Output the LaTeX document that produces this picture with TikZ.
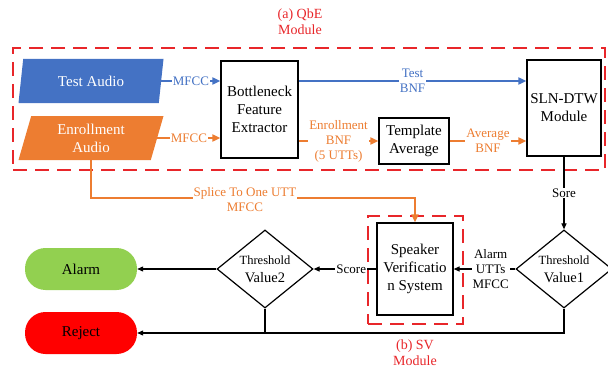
\documentclass[tikz,border=0pt]{standalone}
\usepackage{fontspec}
\setmainfont{Liberation Serif}
\usetikzlibrary{shapes.geometric,arrows.meta,calc}
\definecolor{myblue}{HTML}{4472C4}
\definecolor{myorange}{HTML}{ED7D31}
\definecolor{mygreen}{HTML}{92D050}
\definecolor{myred}{HTML}{FF0000}
\definecolor{dashred}{HTML}{E8262A}
\begin{document}
\begin{tikzpicture}[x=1pt,y=-1pt,
  big/.style={font=\fontsize{15}{18}\selectfont},
  small/.style={font=\fontsize{13}{15}\selectfont},
  box/.style={draw, line width=1.2pt, fill=white, align=center, big, inner sep=0pt},
  para/.style={trapezium, trapezium left angle=66, trapezium right angle=114, trapezium stretches body,
    minimum width=145pt, minimum height=44pt, align=center, big, text=white, inner sep=0pt},
  term/.style={rectangle, rounded corners=20.5pt, minimum width=112pt, minimum height=42pt, big, inner sep=0pt},
  dia/.style={diamond, aspect=1.25, draw, line width=1.2pt, fill=white, minimum width=96pt, minimum height=78pt,
    inner sep=0pt, align=center, font=\fontsize{14.5}{18}\selectfont},
  lbl/.style={fill=white, inner sep=1pt, align=center, small},
  carrow/.style={line width=1.8pt, -{Triangle[length=8pt,width=7pt]}},
  karrow/.style={line width=1.1pt, -{Triangle[length=6pt,width=5pt]}},
  module/.style={draw=dashred, line width=2.6pt, dash pattern=on 14pt off 8pt, inner sep=0pt},
  modlabel/.style={text=dashred, align=center, font=\fontsize{14}{16}\selectfont}
]
\useasboundingbox (0,0) rectangle (608,369);

% module frames
\node[module, minimum width=592pt, minimum height=122pt] (qbe) at (309,109) {};
\node[module, minimum width=95pt, minimum height=108pt] (sv) at (415.5,270) {};
\node[modlabel] (qbelbl) at (300,22) {(a) QbE\\Module};
\node[modlabel] (svlbl) at (415,353) {(b) SV\\Module};

% nodes
\node[para, fill=myblue] (test) at (91,81) {Test Audio};
\node[para, fill=myorange] (enroll) at (91,138) {Enrollment\\Audio};
\node[box, minimum width=77pt, minimum height=97pt] (bfe) at (259.5,109.5) {Bottleneck\\Feature\\Extractor};
\node[box, minimum width=70pt, minimum height=46pt] (tpl) at (414,141) {Template\\Average};
\node[box, minimum width=74pt, minimum height=96pt] (sln) at (564,108) {SLN-DTW\\Module};
\node[box, minimum width=76pt, minimum height=92pt] (svs) at (415,269) {Speaker\\Verificatio\\n System};
\node[dia] (v1) at (564,269) {{\fontsize{12.5}{15}\selectfont Threshold}\\Value1};
\node[dia] (v2) at (265,269) {{\fontsize{12.5}{15}\selectfont Threshold}\\Value2};
\node[term, fill=mygreen] (alarm) at (81,269) {Alarm};
\node[term, fill=myred] (reject) at (81,333) {Reject};

% connectors
\draw[carrow, myblue] (test.east) -- node[lbl, text=myblue] {MFCC} (test.east -| bfe.west);
\draw[carrow, myorange] (enroll.east) -- node[lbl, text=myorange] {MFCC} (enroll.east -| bfe.west);
\draw[carrow, myblue] (bfe.east |- test.east) -- node[lbl, text=myblue] {Test\\BNF} (sln.west |- test.east);
\draw[carrow, myorange] (bfe.east |- tpl.west) -- node[lbl, text=myorange] {Enrollment\\BNF\\(5 UTTs)} (tpl.west);
\draw[carrow, myorange] (tpl.east) -- node[lbl, text=myorange] {Average\\BNF} (tpl.east -| sln.west);
\draw[karrow] (sln.south) -- node[lbl] {Sore} (v1.north);
\draw[karrow] (v1.west) -- node[lbl, pos=0.4] {Alarm\\UTTs\\MFCC} (svs.east);
\draw[karrow] (svs.west) -- node[lbl, pos=0.4] {Score} (v2.east);
\draw[karrow] (v2.west) -- (alarm.east);
\draw[karrow] (v1.south) |- (reject.east);
\draw[line width=1.1pt] (v2.south) -- (v2.south |- reject.east);
\draw[carrow, myorange] (enroll.south) -- ++(0,38) coordinate (sp) -| (svs.north);
\node[lbl, text=myorange] (splbl) at (245,199.5) {Splice To One UTT\\MFCC};
\end{tikzpicture}
\end{document}
